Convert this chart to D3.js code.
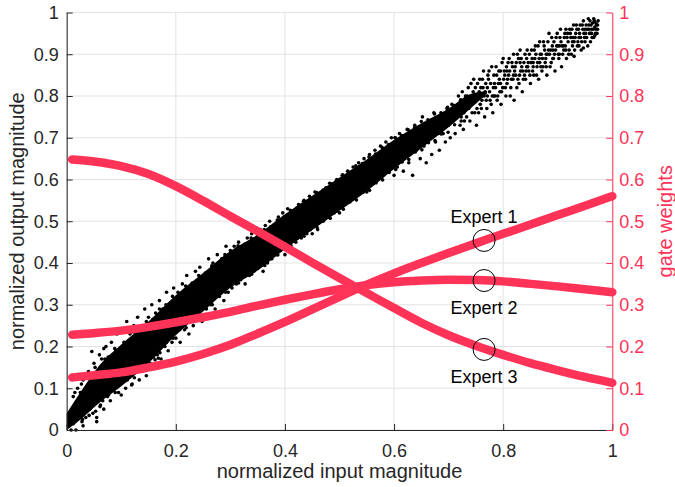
<!DOCTYPE html>
<html><head><meta charset="utf-8">
<script src="https://cdn.jsdelivr.net/npm/d3@7"></script>
<style>body{margin:0;background:#fff}svg{display:block}text{font-family:"Liberation Sans",Arial,Helvetica,sans-serif}</style>
</head><body><svg id="c" width="675" height="487"></svg>
<script>
// ---------------- data ----------------
const xTicks = [0, 0.2, 0.4, 0.6, 0.8, 1];
const yTicks = [0, 0.1, 0.2, 0.3, 0.4, 0.5, 0.6, 0.7, 0.8, 0.9, 1];
const xTickLabels = ["0", "0.2", "0.4", "0.6", "0.8", "1"];
const yTickLabels = ["0", "0.1", "0.2", "0.3", "0.4", "0.5", "0.6", "0.7", "0.8", "0.9", "1"];

// dense core of the scatter band (normalized input -> output)
const coreX  = [0.0, 0.03, 0.06, 0.1, 0.15, 0.2, 0.25, 0.3, 0.35, 0.4, 0.45, 0.5, 0.55, 0.6, 0.65, 0.7, 0.74, 0.77];
const coreLo = [0.0, 0.03, 0.065, 0.105, 0.16, 0.227, 0.284, 0.341, 0.382, 0.433, 0.479, 0.525, 0.572, 0.625, 0.675, 0.725, 0.77, 0.805];
const coreHi = [0.04, 0.1, 0.155, 0.205, 0.26, 0.323, 0.376, 0.429, 0.468, 0.517, 0.561, 0.605, 0.648, 0.695, 0.735, 0.77, 0.805, 0.812];

// individual scatter samples (input, output)
const samples = [
[0.003,0.01],[0.005,0.03],[0.008,0.0],[0.01,0.05],[0.012,0.08],[0.015,0.02],[0.018,0.06],[0.02,0.1],[0.022,0.04],[0.025,0.09],
[0.028,0.02],[0.03,0.12],[0.032,0.07],[0.035,0.03],[0.038,0.1],[0.04,0.14],[0.042,0.05],[0.045,0.12],[0.048,0.04],[0.05,0.16],
[0.052,0.08],[0.055,0.03],[0.058,0.13],[0.06,0.18],[0.062,0.06],[0.065,0.11],[0.068,0.05],[0.07,0.17],[0.072,0.2],[0.075,0.08],
[0.078,0.14],[0.08,0.07],[0.082,0.21],[0.085,0.12],[0.088,0.1],[0.09,0.19],[0.092,0.23],[0.095,0.09],[0.098,0.16],[0.1,0.24],
[0.03,0.01],[0.055,0.02],[0.012,0.015],[0.061,0.056],[0.1,0.084],[0.119,0.108],[0.162,0.168],[0.168,0.172],[0.046,0.188],[0.068,0.195],
[0.105,0.21],[0.108,0.1],[0.11,0.26],[0.113,0.13],[0.116,0.23],[0.12,0.11],[0.123,0.25],[0.126,0.14],[0.13,0.27],[0.133,0.12],
[0.136,0.24],[0.14,0.15],[0.143,0.29],[0.146,0.13],[0.15,0.27],[0.153,0.16],[0.156,0.3],[0.16,0.15],[0.163,0.28],[0.166,0.18],
[0.17,0.31],[0.173,0.17],[0.176,0.29],[0.18,0.2],[0.183,0.33],[0.186,0.19],[0.19,0.3],[0.193,0.21],[0.196,0.34],[0.2,0.22],
[0.204,0.33],[0.208,0.21],[0.212,0.35],[0.216,0.24],[0.22,0.37],[0.224,0.23],[0.228,0.34],[0.232,0.25],[0.236,0.38],[0.24,0.27],
[0.244,0.39],[0.248,0.26],[0.252,0.37],[0.256,0.29],[0.26,0.41],[0.264,0.3],[0.268,0.4],[0.272,0.29],[0.276,0.42],[0.28,0.32],
[0.284,0.41],[0.288,0.31],[0.292,0.44],[0.296,0.33],[0.3,0.43],
[0.303,0.34],[0.307,0.44],[0.311,0.35],[0.315,0.45],[0.319,0.36],[0.323,0.43],[0.327,0.35],[0.331,0.46],[0.335,0.37],[0.339,0.47],
[0.343,0.38],[0.347,0.45],[0.351,0.39],[0.355,0.48],[0.36,0.38],[0.364,0.49],[0.368,0.4],[0.372,0.5],[0.376,0.41],[0.38,0.48],
[0.384,0.42],[0.388,0.51],[0.392,0.43],[0.396,0.52],[0.4,0.42],[0.405,0.53],[0.41,0.44],[0.415,0.52],[0.42,0.45],[0.425,0.54],
[0.43,0.46],[0.435,0.55],[0.44,0.47],[0.445,0.56],[0.45,0.47],[0.455,0.57],[0.46,0.48],[0.465,0.56],[0.47,0.5],[0.475,0.58],
[0.48,0.51],[0.485,0.59],[0.49,0.52],[0.495,0.6],[0.5,0.52],[0.505,0.61],[0.51,0.54],[0.515,0.62],[0.52,0.55],[0.525,0.63],
[0.53,0.56],[0.535,0.64],[0.54,0.57],[0.545,0.65],[0.55,0.57],[0.555,0.66],[0.56,0.59],[0.565,0.67],[0.57,0.6],[0.575,0.68],
[0.58,0.61],[0.585,0.69],[0.59,0.62],[0.595,0.7],[0.6,0.61],
[0.602,0.70],[0.606,0.63],[0.61,0.71],[0.613,0.66],[0.617,0.62],[0.62,0.69],[0.624,0.72],[0.627,0.64],[0.631,0.68],[0.634,0.61],
[0.638,0.73],[0.641,0.67],[0.645,0.7],[0.648,0.65],[0.652,0.75],[0.655,0.68],[0.659,0.64],[0.662,0.72],[0.666,0.7],[0.669,0.66],
[0.673,0.76],[0.676,0.69],[0.68,0.73],[0.683,0.67],[0.687,0.75],[0.69,0.71],[0.694,0.69],[0.697,0.77],[0.7,0.73],[0.703,0.7],
[0.706,0.78],[0.709,0.74],[0.712,0.71],[0.715,0.76],[0.718,0.8],[0.721,0.73],[0.724,0.77],[0.727,0.72],[0.73,0.79],[0.733,0.75],
[0.736,0.82],[0.739,0.74],[0.742,0.78],[0.745,0.81],[0.748,0.76],[0.751,0.73],[0.754,0.8],[0.757,0.84],[0.76,0.77],[0.763,0.82],
[0.766,0.75],[0.769,0.79],[0.772,0.85],[0.775,0.81],[0.778,0.78],[0.781,0.76],[0.784,0.83],[0.787,0.87],[0.79,0.8],[0.793,0.84],
[0.796,0.78],[0.799,0.82],
[0.802,0.86],[0.805,0.8],[0.808,0.84],[0.811,0.89],[0.814,0.82],[0.817,0.87],[0.82,0.79],[0.823,0.85],[0.826,0.9],[0.829,0.83],
[0.832,0.86],[0.835,0.81],[0.838,0.88],[0.841,0.84],[0.844,0.91],[0.847,0.86],[0.85,0.83],[0.853,0.89],[0.856,0.85],[0.859,0.92],
[0.862,0.87],[0.865,0.84],[0.868,0.9],[0.871,0.86],[0.874,0.93],[0.877,0.88],[0.88,0.85],[0.883,0.91],[0.886,0.87],[0.889,0.94],
[0.892,0.89],[0.895,0.86],[0.898,0.92],
[0.901,0.9],[0.904,0.94],[0.907,0.87],[0.91,0.92],[0.913,0.95],[0.916,0.89],[0.919,0.93],[0.922,0.96],[0.925,0.9],[0.928,0.94],
[0.931,0.91],[0.934,0.97],[0.937,0.93],[0.94,0.95],[0.943,0.91],[0.946,0.96],[0.949,0.94],[0.952,0.97],[0.955,0.92],[0.958,0.95],
[0.961,0.97],[0.963,0.94],[0.965,0.96],[0.967,0.98],[0.969,0.95],[0.971,0.97],[0.973,0.96],
[0.604,0.68],[0.615,0.7],[0.629,0.66],[0.643,0.72],[0.657,0.7],[0.671,0.74],[0.685,0.71],[0.699,0.75],[0.711,0.77],[0.723,0.75],
[0.735,0.78],[0.747,0.79],[0.759,0.8],[0.771,0.82],[0.783,0.8],[0.795,0.83],[0.807,0.86],[0.819,0.85],[0.831,0.88],[0.843,0.87],
[0.855,0.88],[0.867,0.88],[0.879,0.9],[0.891,0.91],[0.903,0.92],[0.915,0.91],[0.927,0.93],[0.939,0.92],[0.951,0.95],[0.962,0.95],
[0.966,0.94],[0.97,0.96],
// band edges
[0.015,0.09],[0.017,0.0],[0.027,0.11],[0.029,0.025],[0.04,0.13],[0.041,0.035],[0.052,0.15],[0.053,0.045],[0.064,0.17],[0.066,0.07],
[0.076,0.175],[0.077,0.085],[0.088,0.195],[0.089,0.09],[0.11,0.21],[0.111,0.12],[0.122,0.235],[0.124,0.125],[0.134,0.24],[0.135,0.15],
[0.146,0.26],[0.147,0.155],[0.158,0.265],[0.159,0.175],[0.17,0.29],[0.171,0.185],[0.182,0.3],[0.183,0.21],[0.194,0.32],[0.195,0.22],
[0.206,0.325],[0.207,0.24],[0.218,0.345],[0.219,0.245],[0.23,0.352],[0.231,0.265],[0.242,0.37],[0.243,0.272],[0.254,0.376],[0.255,0.292],
[0.266,0.393],[0.267,0.3],[0.278,0.4],[0.279,0.322],[0.29,0.42],[0.291,0.33],[0.302,0.426],[0.303,0.348],[0.314,0.441],[0.315,0.352],
[0.326,0.445],[0.327,0.369],[0.338,0.46],[0.339,0.373],[0.35,0.464],[0.351,0.388],[0.362,0.48],[0.363,0.394],[0.374,0.487],[0.375,0.413],
[0.386,0.503],[0.387,0.419],[0.398,0.51],[0.399,0.437],[0.41,0.526],[0.411,0.442],[0.422,0.532],[0.423,0.459],[0.434,0.548],[0.435,0.464],
[0.446,0.553],[0.447,0.48],[0.458,0.569],[0.459,0.485],[0.47,0.575],[0.471,0.502],[0.482,0.591],[0.483,0.507],[0.494,0.596],[0.495,0.524],
[0.506,0.611],[0.507,0.529],[0.518,0.617],[0.519,0.546],[0.53,0.633],[0.531,0.551],[0.542,0.638],[0.543,0.569],[0.554,0.654],[0.555,0.574],
[0.566,0.661],[0.567,0.592],[0.578,0.677],[0.579,0.599],[0.59,0.684],[0.591,0.617],[0.602,0.7],[0.603,0.624],[0.614,0.705],[0.615,0.642],
[0.626,0.719],[0.627,0.648],[0.638,0.725],[0.639,0.666],[0.65,0.739],[0.651,0.671],[0.662,0.743],[0.663,0.688],[0.674,0.757],[0.675,0.693],
[0.686,0.76],[0.687,0.709],[0.698,0.773],[0.699,0.713],[0.71,0.777],[0.711,0.731],[0.722,0.791],[0.723,0.74],
// upper sparse part
[0.722,0.79],[0.728,0.76],[0.731,0.8],[0.737,0.77],[0.741,0.83],[0.744,0.79],[0.749,0.82],[0.752,0.77],[0.756,0.81],[0.758,0.78],
[0.762,0.84],[0.765,0.8],[0.768,0.83],[0.77,0.77],[0.774,0.86],[0.777,0.83],[0.78,0.8],[0.783,0.85],[0.786,0.82],[0.789,0.79],
[0.792,0.86],[0.794,0.81],[0.798,0.88],[0.801,0.84],[0.804,0.82],[0.806,0.87],[0.81,0.85],[0.813,0.8],[0.816,0.88],[0.818,0.84],
[0.822,0.87],[0.825,0.82],[0.828,0.89],[0.83,0.85],[0.834,0.87],[0.837,0.84],[0.84,0.9],[0.842,0.86],[0.846,0.88],[0.849,0.85],
[0.852,0.91],[0.855,0.87],[0.858,0.89],[0.861,0.85],[0.864,0.92],[0.866,0.89],[0.87,0.9],[0.873,0.87],[0.876,0.91],[0.878,0.89],
[0.882,0.93],[0.885,0.9],[0.888,0.88],[0.89,0.92],[0.894,0.9],[0.897,0.94],[0.9,0.92],[0.902,0.89],[0.906,0.93],[0.909,0.9],
[0.912,0.94],[0.914,0.92],[0.918,0.95],[0.921,0.91],[0.924,0.94],[0.926,0.96],[0.93,0.93],[0.933,0.95],[0.936,0.92],[0.938,0.96],
[0.942,0.94],[0.945,0.97],[0.948,0.95],[0.95,0.93],[0.954,0.96],[0.957,0.97],[0.96,0.95],[0.964,0.975],[0.968,0.965],[0.972,0.95],
[0.974,0.98],[0.96,0.93],[0.956,0.985],[0.947,0.915],[0.93,0.895],
[0.725,0.81],[0.729,0.74],[0.734,0.8],[0.738,0.79],[0.743,0.76],[0.746,0.84],[0.75,0.8],[0.753,0.83],[0.755,0.76],[0.759,0.82],
[0.761,0.79],[0.764,0.86],[0.767,0.81],[0.771,0.8],[0.773,0.84],[0.776,0.79],[0.779,0.87],[0.782,0.82],[0.785,0.8],[0.788,0.85],
[0.791,0.83],[0.795,0.86],[0.797,0.81],[0.8,0.89],[0.803,0.85],[0.807,0.83],[0.809,0.88],[0.812,0.86],[0.815,0.84],[0.819,0.9],
[0.821,0.86],[0.824,0.88],[0.827,0.84],[0.831,0.91],[0.833,0.89],[0.836,0.86],[0.839,0.85],[0.843,0.89],[0.845,0.87],[0.848,0.9],
[0.851,0.88],[0.854,0.86],[0.857,0.91],[0.86,0.9],[0.863,0.88],[0.867,0.93],[0.869,0.87],[0.872,0.89],[0.875,0.92],[0.879,0.87],
[0.881,0.9],[0.884,0.95],[0.887,0.91],[0.891,0.89],[0.893,0.93],[0.896,0.91],[0.899,0.95],[0.903,0.9],[0.905,0.96],[0.908,0.92],
[0.911,0.91],[0.915,0.96],[0.917,0.94],[0.92,0.9],[0.923,0.95],[0.927,0.92],[0.929,0.97],[0.932,0.94],[0.935,0.96],[0.939,0.94],
[0.941,0.97],[0.944,0.93],[0.947,0.98],[0.95,0.96],[0.953,0.94],[0.957,0.96],[0.959,0.98],[0.962,0.96],[0.966,0.985],[0.97,0.975],
[0.968,0.945],[0.973,0.97]
];

// gate weights (right axis) for the three experts
const gateX   = [0.01, 0.05, 0.1, 0.15, 0.2, 0.25, 0.3, 0.35, 0.4, 0.45, 0.5, 0.55, 0.6, 0.65, 0.7, 0.75, 0.8, 0.85, 0.9, 0.95, 1.0];
const expert1 = [0.126, 0.131, 0.138, 0.15, 0.164, 0.182, 0.204, 0.231, 0.259, 0.289, 0.319, 0.348, 0.375, 0.4, 0.424, 0.447, 0.47, 0.492, 0.515, 0.537, 0.56];
const expert2 = [0.228, 0.232, 0.238, 0.247, 0.258, 0.27, 0.283, 0.298, 0.312, 0.325, 0.337, 0.347, 0.354, 0.358, 0.36, 0.359, 0.356, 0.35, 0.344, 0.337, 0.33];
const expert3 = [0.648, 0.643, 0.632, 0.613, 0.584, 0.549, 0.512, 0.476, 0.439, 0.401, 0.364, 0.328, 0.292, 0.257, 0.227, 0.202, 0.18, 0.16, 0.143, 0.127, 0.113];

const expertNames = ["Expert 1", "Expert 2", "Expert 3"];
const markerX = 0.765;
const markerY = [0.454, 0.358, 0.193];

// ---------------- drawing ----------------
const RED = "#ff3358", INK = "#262626", GRID = "#e3e3e3";
const svg = d3.select("#c");
const L = 66.7, R = 612.3, T = 12.5, B = 430;
const x = d3.scaleLinear().domain([0, 1]).range([L, R]);
const y = d3.scaleLinear().domain([0, 1]).range([B, T]);
const y2 = d3.scaleLinear().domain([0, 1]).range([B, T]);

// grid
svg.append("g").selectAll("line").data(xTicks).join("line")
  .attr("x1", d => x(d)).attr("x2", d => x(d)).attr("y1", T).attr("y2", B)
  .attr("stroke", GRID).attr("stroke-width", 1);
svg.append("g").selectAll("line").data(yTicks).join("line")
  .attr("x1", L).attr("x2", R).attr("y1", d => y(d)).attr("y2", d => y(d))
  .attr("stroke", GRID).attr("stroke-width", 1);

// scatter core
const area = d3.area().curve(d3.curveMonotoneX)
  .x((d, i) => x(coreX[i])).y0((d, i) => y(coreLo[i])).y1((d, i) => y(coreHi[i]));
svg.append("path").datum(coreX).attr("d", area).attr("fill", "#000");

// scatter samples
svg.append("g").selectAll("circle").data(samples).join("circle")
  .attr("cx", d => x(d[0])).attr("cy", d => y(d[1])).attr("r", 1.8).attr("fill", "#000");

// gate curves
const gates = [expert1, expert2, expert3];
const line = d3.line().curve(d3.curveMonotoneX).x((d, i) => x(gateX[i])).y(d => y2(d));
svg.append("g").selectAll("path").data(gates).join("path")
  .attr("d", line).attr("fill", "none").attr("stroke", RED)
  .attr("stroke-width", 8.5).attr("stroke-linecap", "round").attr("stroke-linejoin", "round");

// axes
const fs = "18px", fsT = "20px";
const gl = svg.append("g").attr("transform", `translate(${L},0)`)
  .call(d3.axisLeft(y).tickValues(yTicks).tickFormat((d, i) => yTickLabels[i]).tickSizeInner(-6).tickSizeOuter(0).tickPadding(8));
const gb = svg.append("g").attr("transform", `translate(0,${B})`)
  .call(d3.axisBottom(x).tickValues(xTicks).tickFormat((d, i) => xTickLabels[i]).tickSizeInner(-6).tickSizeOuter(0).tickPadding(14));
const gr = svg.append("g").attr("transform", `translate(${R},0)`)
  .call(d3.axisRight(y2).tickValues(yTicks).tickFormat((d, i) => yTickLabels[i]).tickSizeInner(-6).tickSizeOuter(0).tickPadding(7));
[gl, gb].forEach(g => {
  g.select(".domain").attr("stroke", INK);
  g.selectAll(".tick line").attr("stroke", INK);
  g.selectAll("text").attr("fill", INK).style("font-size", fs);
});
gr.select(".domain").attr("stroke", RED);
gr.selectAll(".tick line").attr("stroke", RED);
gr.selectAll("text").attr("fill", RED).style("font-size", fs);
svg.selectAll(".tick text").attr("font-family", null);

// titles
svg.append("text").attr("x", (L + R) / 2).attr("y", 478).attr("text-anchor", "middle")
  .attr("fill", INK).style("font-size", fsT).text("normalized input magnitude");
svg.append("text").attr("transform", `translate(24,${(T + B) / 2}) rotate(-90)`).attr("text-anchor", "middle")
  .attr("fill", INK).style("font-size", fsT).text("normalized output magnitude");
svg.append("text").attr("transform", `translate(672,${(T + B) / 2}) rotate(-90)`).attr("text-anchor", "middle")
  .attr("fill", RED).style("font-size", fsT).text("gate weights");

// expert markers and labels
const labelDy = [-17, 33.5, 33.5];
svg.append("g").selectAll("circle").data(markerY).join("circle")
  .attr("cx", x(markerX)).attr("cy", d => y2(d)).attr("r", 11)
  .attr("fill", "none").attr("stroke", "#000").attr("stroke-width", 1);
svg.append("g").selectAll("text").data(expertNames).join("text")
  .attr("x", x(markerX)).attr("y", (d, i) => y2(markerY[i]) + labelDy[i])
  .attr("text-anchor", "middle").attr("fill", "#000").style("font-size", fs).text(d => d);
</script></body></html>
